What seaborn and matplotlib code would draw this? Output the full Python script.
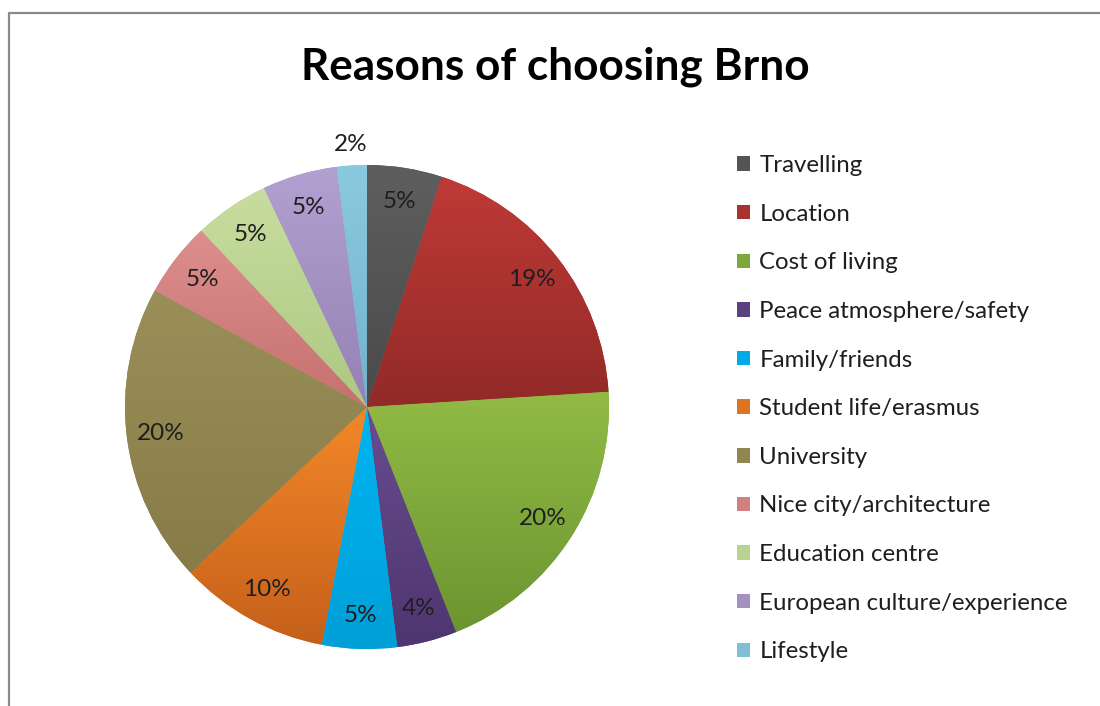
import numpy as np
import matplotlib
matplotlib.use("Agg")
import matplotlib.pyplot as plt
import matplotlib.colors as mcolors
from matplotlib.patches import Patch
from matplotlib.lines import Line2D
import seaborn as sns

# Survey answers (percent of respondents)
reasons = [
    "Travelling", "Location", "Cost of living", "Peace atmosphere/safety",
    "Family/friends", "Student life/erasmus", "University",
    "Nice city/architecture", "Education centre",
    "European culture/experience", "Lifestyle",
]
shares = [5, 19, 20, 4, 5, 10, 20, 5, 5, 5, 2]

# Light (top) and dark (bottom) shade of each slice fill
tops = ["#5e5e5e", "#bf3a36", "#91bb45", "#694c90", "#00b5f1", "#f38728",
        "#9a8f59", "#dd8f8d", "#c7dd9f", "#b1a0d0", "#8acadf"]
bottoms = ["#4a4a4a", "#922a28", "#6c9531", "#4e3670", "#009fd8", "#c5601b",
           "#877b47", "#c57170", "#adc882", "#9482b4", "#72b3cb"]

sns.set_theme(style="white")
plt.rcParams["font.family"] = ["Lato", "DejaVu Sans"]

W, H = 1100, 706
fig = plt.figure(figsize=(W / 100, H / 100), dpi=100)
fig.patch.set_facecolor("white")

R_PX = 242
cx, cy = 367, 407
ax = fig.add_axes([(cx - R_PX) / W, (H - cy - R_PX) / H, 2 * R_PX / W, 2 * R_PX / H])

mid_colors = []
for t, b in zip(tops, bottoms):
    ct, cb = np.array(mcolors.to_rgb(t)), np.array(mcolors.to_rgb(b))
    mid_colors.append((ct + cb) / 2)

wedges, texts, pcts = ax.pie(
    shares,
    colors=mid_colors,
    startangle=90,
    counterclock=False,
    autopct=lambda p: f"{p:.0f}%",
    pctdistance=0.86,
    radius=1.0,
    wedgeprops=dict(linewidth=0),
    textprops=dict(fontsize=17.5, color="#1e1e1e"),
)
ax.set_aspect("equal")
ax.axis("off")

# Vertical shading inside every slice
for w, t, b in zip(wedges, tops, bottoms):
    ct, cb = np.array(mcolors.to_rgb(t)), np.array(mcolors.to_rgb(b))
    path = w.get_path()
    verts = w.get_transform().transform(path.vertices)
    verts = ax.transData.inverted().transform(verts)
    x0, x1 = verts[:, 0].min(), verts[:, 0].max()
    y0, y1 = verts[:, 1].min(), verts[:, 1].max()
    frac = np.linspace(0, 1, 64)[:, None]
    grad = ct[None, :] * (1 - frac) + cb[None, :] * frac
    grad = grad[:, None, :]
    im = ax.imshow(grad, extent=(x0, x1, y0, y1), origin="upper",
                   aspect="auto", interpolation="bilinear", zorder=w.get_zorder() + 0.1)
    im.set_clip_path(w)

for p in pcts:
    p.set_zorder(5)

# The smallest slice gets its label outside the pie
w = wedges[-1]
ang = np.deg2rad((w.theta1 + w.theta2) / 2)
pcts[-1].set_position((1.085 * np.cos(ang), 1.085 * np.sin(ang)))

ax.set_xlim(-1.0, 1.0)
ax.set_ylim(-1.0, 1.0)

fig.text(555 / W, 1 - 67 / H, "Reasons of choosing Brno", ha="center", va="center",
         fontsize=31.8, fontweight="bold", color="#000000")

handles = [Patch(facecolor=c, edgecolor="none") for c in mid_colors]
fig.legend(handles, reasons, loc="upper left",
           bbox_to_anchor=(737 / W, 1 - 155 / H), frameon=False,
           fontsize=17.3, labelspacing=1.15, handlelength=0.55, handleheight=0.55,
           handletextpad=0.38, borderpad=0, borderaxespad=0,
           labelcolor="#1e1e1e")

# Chart area frame (left and top edges)
fig.add_artist(Line2D([9 / W, 9 / W, 1.0], [0.0, 1 - 13 / H, 1 - 13 / H],
                      transform=fig.transFigure, color="#8a8a8a", linewidth=1.6))

fig.savefig("out.png", dpi=100, facecolor="white")
